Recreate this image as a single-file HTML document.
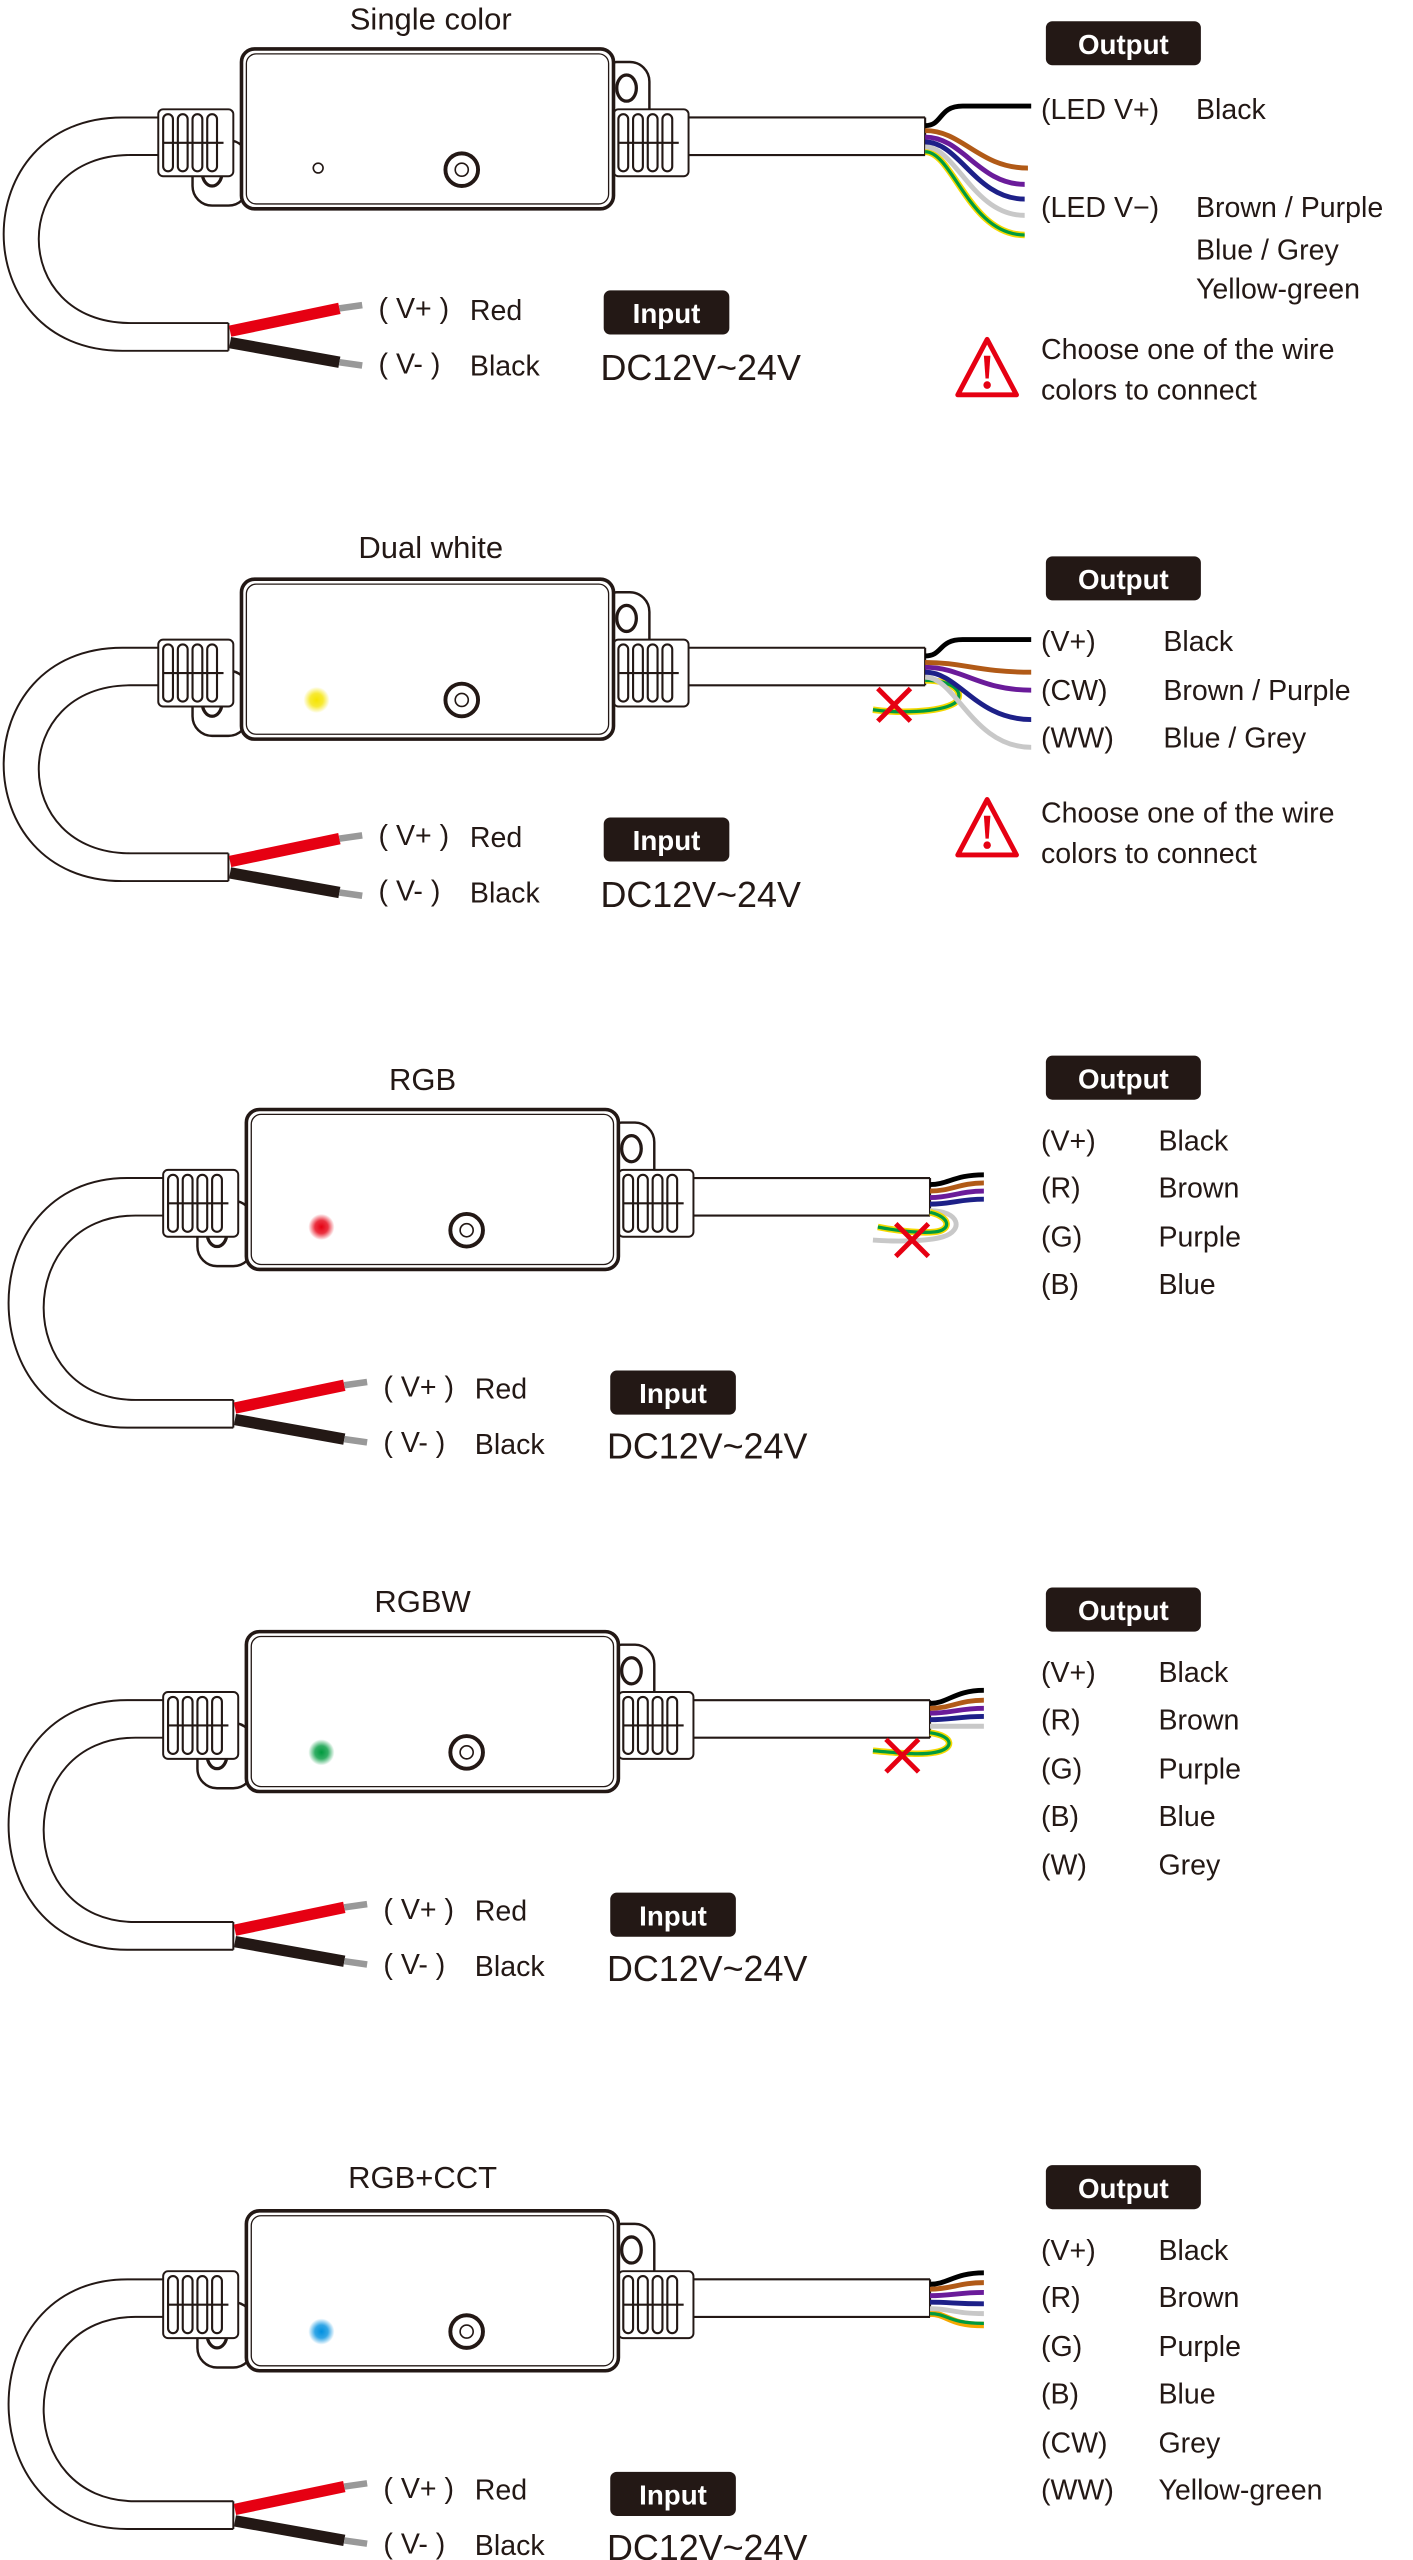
<!DOCTYPE html>
<html><head><meta charset="utf-8"><style>
html,body{margin:0;padding:0;background:#fff}
svg{display:block}
text{font-family:"Liberation Sans",sans-serif;fill:#231815}
.t{font-size:19px}
.l{font-size:17.5px}
.b{font-size:17px;font-weight:bold;fill:#fff}
.dc{font-size:22px}
</style></head><body>
<svg width="1413" height="2560" viewBox="0 0 866 1569" preserveAspectRatio="none" xmlns="http://www.w3.org/2000/svg">
<defs>
<g id="gl">
 <rect x="0" y="0" width="46" height="41" rx="3" fill="#fff" stroke="#231815" stroke-width="1.2"/>
 <g fill="#fff" stroke="#231815" stroke-width="1.3">
  <rect x="3" y="3" width="6" height="35" rx="3"/><rect x="12" y="3" width="6" height="35" rx="3"/>
  <rect x="21" y="3" width="6" height="35" rx="3"/><rect x="30" y="3" width="6" height="35" rx="3"/>
  <line x1="3" y1="20.5" x2="40" y2="20.5"/>
 </g>
</g>
<g id="dev" fill="none" stroke="#231815">
 <!-- top right ear -->
 <rect x="366" y="38" width="32" height="44" rx="12" fill="#fff" stroke-width="1.5"/>
 <ellipse cx="384" cy="54" rx="6" ry="8" stroke-width="2"/>
 <!-- bottom left ear -->
 <rect x="118" y="86" width="34" height="40" rx="12" fill="#fff" stroke-width="1.5"/>
 <ellipse cx="130" cy="106" rx="6" ry="8" stroke-width="2"/>
 <!-- right cable -->
 <line x1="418" y1="72" x2="567" y2="72" stroke-width="1.3"/>
 <line x1="418" y1="95" x2="567" y2="95" stroke-width="1.3"/>
 <line x1="567" y1="72" x2="567" y2="95" stroke-width="1.3"/>
 <use href="#gl" x="97" y="67"/>
 <use href="#gl" x="376" y="67"/>
 <!-- box -->
 <rect x="148" y="30" width="228" height="98" rx="8" fill="#fff" stroke-width="2.2"/>
 <rect x="151" y="33" width="222" height="92" rx="6" stroke-width="0.8"/>
 <!-- button -->
 <circle cx="283" cy="104" r="10" fill="#fff" stroke-width="2.4"/>
 <circle cx="283" cy="104" r="4" stroke-width="1"/>
</g>
<g id="inp">
 <rect x="0" y="0" width="77" height="27" rx="4" fill="#231815"/>
 <text x="38.5" y="20" class="b" text-anchor="middle">Input</text>
</g>
<g id="outb">
 <rect x="0" y="0" width="95" height="27" rx="4" fill="#231815"/>
 <text x="47.5" y="20" class="b" text-anchor="middle">Output</text>
</g>
<radialGradient id="gy"><stop offset="0" stop-color="#f5e400"/><stop offset="0.5" stop-color="#f5e400" stop-opacity="0.8"/><stop offset="1" stop-color="#f5e400" stop-opacity="0"/></radialGradient>
<radialGradient id="gr"><stop offset="0" stop-color="#e60012"/><stop offset="0.5" stop-color="#e60012" stop-opacity="0.8"/><stop offset="1" stop-color="#e60012" stop-opacity="0"/></radialGradient>
<radialGradient id="gg"><stop offset="0" stop-color="#009a3e"/><stop offset="0.5" stop-color="#009a3e" stop-opacity="0.8"/><stop offset="1" stop-color="#009a3e" stop-opacity="0"/></radialGradient>
<radialGradient id="gb"><stop offset="0" stop-color="#0090e0"/><stop offset="0.5" stop-color="#0090e0" stop-opacity="0.8"/><stop offset="1" stop-color="#0090e0" stop-opacity="0"/></radialGradient>
<g id="warn">
 <path d="M20,3 L38,37 L2,37 Z" fill="#fff" stroke="#e60012" stroke-width="3" stroke-linejoin="round"/>
 <path d="M18,13 L22,13 L21,27 L19,27 Z" fill="#e60012"/>
 <circle cx="20" cy="31" r="2.3" fill="#e60012"/>
</g>
<g id="xx" stroke="#e60012" stroke-width="3"><line x1="-10" y1="-10" x2="10" y2="10"/><line x1="10" y1="-10" x2="-10" y2="10"/></g>
</defs>

<!-- helper for power cable: params by section -->
<!-- ============ SECTION 1 ============ -->
<g>
 <text x="264" y="18" class="t" text-anchor="middle">Single color</text>
 <path d="M97,72 L75,72 C-22,72 -22,215 75,215 L140,215 M97,95 L80,95 C5,95 5,198 80,198 L140,198 M140,198 L140,215" fill="none" stroke="#231815" stroke-width="1.2"/>
 <use href="#dev"/>
 <circle cx="195" cy="103" r="3" fill="none" stroke="#231815" stroke-width="1"/>
 <line x1="141" y1="203" x2="208" y2="189" stroke="#e60012" stroke-width="7"/>
 <line x1="141" y1="210" x2="208" y2="222" stroke="#231815" stroke-width="7"/>
 <line x1="208" y1="189" x2="222" y2="187" stroke="#999" stroke-width="4"/>
 <line x1="208" y1="222" x2="222" y2="224" stroke="#999" stroke-width="4"/>
 <text x="232" y="195" class="l">( V+ )</text><text x="288" y="196" class="l">Red</text>
 <text x="232" y="229" class="l">( V- )</text><text x="288" y="230" class="l">Black</text>
 <use href="#inp" x="370" y="178"/>
 <text x="368" y="233" class="dc">DC12V~24V</text>
 <use href="#outb" x="641" y="13"/>
 <g fill="none" stroke-width="3">
  <path d="M567,93 C584,93 594,144 628,144" stroke="#f5d800" stroke-width="4"/>
  <path d="M567,93 C584,93 594,144 628,144" stroke="#009a3e" stroke-width="2"/>
  <path d="M567,90 C586,90 596,132 628,132" stroke="#c8c8c8"/>
  <path d="M567,87 C588,87 598,122 628,122" stroke="#1d2088"/>
  <path d="M567,84 C590,84 600,113 628,113" stroke="#6a1b9a"/>
  <path d="M567,80 C590,80 600,103 630,103" stroke="#b15a17"/>
  <path d="M567,77 C578,77 575,65 590,65 L632,65" stroke="#000"/>
 </g>
 <text x="638" y="73" class="l">(LED V+)</text><text x="733" y="73" class="l">Black</text>
 <text x="638" y="133" class="l">(LED V−)</text><text x="733" y="133" class="l">Brown / Purple</text>
 <text x="733" y="159" class="l">Blue / Grey</text>
 <text x="733" y="183" class="l">Yellow-green</text>
 <use href="#warn" x="585" y="205"/>
 <text x="638" y="220" class="l">Choose one of the wire</text>
 <text x="638" y="245" class="l">colors to connect</text>
</g>

<!-- ============ SECTION 2 ============ -->
<g transform="translate(0,325)">
 <text x="264" y="17" class="t" text-anchor="middle">Dual white</text>
 <path d="M97,72 L75,72 C-22,72 -22,215 75,215 L140,215 M97,95 L80,95 C5,95 5,198 80,198 L140,198 M140,198 L140,215" fill="none" stroke="#231815" stroke-width="1.2"/>
 <use href="#dev"/>
 <circle cx="194" cy="104" r="8" fill="url(#gy)"/>
 <line x1="141" y1="203" x2="208" y2="189" stroke="#e60012" stroke-width="7"/>
 <line x1="141" y1="210" x2="208" y2="222" stroke="#231815" stroke-width="7"/>
 <line x1="208" y1="189" x2="222" y2="187" stroke="#999" stroke-width="4"/>
 <line x1="208" y1="222" x2="222" y2="224" stroke="#999" stroke-width="4"/>
 <text x="232" y="193" class="l">( V+ )</text><text x="288" y="194" class="l">Red</text>
 <text x="232" y="227" class="l">( V- )</text><text x="288" y="228" class="l">Black</text>
 <use href="#inp" x="370" y="176"/>
 <text x="368" y="231" class="dc">DC12V~24V</text>
 <use href="#outb" x="641" y="16"/>
 <g fill="none" stroke-width="3">
  <path d="M567,92 C585,92 592,100 585,106 C575,112 550,112 535,110" stroke="#f5d800" stroke-width="4"/>
  <path d="M567,92 C585,92 592,100 585,106 C575,112 550,112 535,110" stroke="#009a3e" stroke-width="2"/>
  <path d="M567,90 C586,90 596,133 632,133" stroke="#c8c8c8"/>
  <path d="M567,87 C588,87 598,116 632,116" stroke="#1d2088"/>
  <path d="M567,84 C590,84 600,98 632,98" stroke="#6a1b9a"/>
  <path d="M567,81 C590,81 600,87 632,87" stroke="#b15a17"/>
  <path d="M567,77 C578,77 575,67 590,67 L632,67" stroke="#000"/>
 </g>
 <use href="#xx" x="548" y="107"/>
 <text x="638" y="74" class="l">(V+)</text><text x="713" y="74" class="l">Black</text>
 <text x="638" y="104" class="l">(CW)</text><text x="713" y="104" class="l">Brown / Purple</text>
 <text x="638" y="133" class="l">(WW)</text><text x="713" y="133" class="l">Blue / Grey</text>
 <use href="#warn" x="585" y="162"/>
 <text x="638" y="179" class="l">Choose one of the wire</text>
 <text x="638" y="204" class="l">colors to connect</text>
</g>

<!-- ============ SECTION 3 ============ -->
<g transform="translate(3,650)">
 <text x="256" y="18" class="t" text-anchor="middle">RGB</text>
 <path d="M97,72 L75,72 C-22,72 -22,225 75,225 L140,225 M97,95 L80,95 C5,95 5,208 80,208 L140,208 M140,208 L140,225" fill="none" stroke="#231815" stroke-width="1.2"/>
 <use href="#dev"/>
 <circle cx="194" cy="102" r="8" fill="url(#gr)"/>
 <line x1="141" y1="213" x2="208" y2="199" stroke="#e60012" stroke-width="7"/>
 <line x1="141" y1="220" x2="208" y2="232" stroke="#231815" stroke-width="7"/>
 <line x1="208" y1="199" x2="222" y2="197" stroke="#999" stroke-width="4"/>
 <line x1="208" y1="232" x2="222" y2="234" stroke="#999" stroke-width="4"/>
 <text x="232" y="206" class="l">( V+ )</text><text x="288" y="207" class="l">Red</text>
 <text x="232" y="240" class="l">( V- )</text><text x="288" y="241" class="l">Black</text>
 <use href="#inp" x="371" y="190"/>
 <text x="369" y="244" class="dc">DC12V~24V</text>
 <use href="#outb" x="638" y="-3"/>
 <g fill="none" stroke-width="3">
  <path d="M567,92 C585,92 588,104 575,108 C565,111 545,111 532,110" stroke="#c8c8c8"/>
  <path d="M567,93 C580,96 580,104 570,105 C560,106 545,104 535,102" stroke="#f5d800" stroke-width="4"/>
  <path d="M567,93 C580,96 580,104 570,105 C560,106 545,104 535,102" stroke="#009a3e" stroke-width="2"/>
  <path d="M567,88 C580,88 585,85 600,85" stroke="#1d2088"/>
  <path d="M567,84 C580,84 585,80 600,80" stroke="#6a1b9a"/>
  <path d="M567,80 C580,80 585,75 600,75" stroke="#b15a17"/>
  <path d="M567,76 C578,76 582,70 600,70" stroke="#000"/>
 </g>
 <use href="#xx" x="556" y="110"/>
 <text x="635" y="55" class="l">(V+)</text><text x="707" y="55" class="l">Black</text>
 <text x="635" y="84" class="l">(R)</text><text x="707" y="84" class="l">Brown</text>
 <text x="635" y="114" class="l">(G)</text><text x="707" y="114" class="l">Purple</text>
 <text x="635" y="143" class="l">(B)</text><text x="707" y="143" class="l">Blue</text>
</g>

<!-- ============ SECTION 4 ============ -->
<g transform="translate(3,970)">
 <text x="256" y="18" class="t" text-anchor="middle">RGBW</text>
 <path d="M97,72 L75,72 C-22,72 -22,225 75,225 L140,225 M97,95 L80,95 C5,95 5,208 80,208 L140,208 M140,208 L140,225" fill="none" stroke="#231815" stroke-width="1.2"/>
 <use href="#dev"/>
 <circle cx="194" cy="104" r="8" fill="url(#gg)"/>
 <line x1="141" y1="213" x2="208" y2="199" stroke="#e60012" stroke-width="7"/>
 <line x1="141" y1="220" x2="208" y2="232" stroke="#231815" stroke-width="7"/>
 <line x1="208" y1="199" x2="222" y2="197" stroke="#999" stroke-width="4"/>
 <line x1="208" y1="232" x2="222" y2="234" stroke="#999" stroke-width="4"/>
 <text x="232" y="206" class="l">( V+ )</text><text x="288" y="207" class="l">Red</text>
 <text x="232" y="240" class="l">( V- )</text><text x="288" y="241" class="l">Black</text>
 <use href="#inp" x="371" y="190"/>
 <text x="369" y="244" class="dc">DC12V~24V</text>
 <use href="#outb" x="638" y="3"/>
 <g fill="none" stroke-width="3">
  <path d="M567,92 C582,94 582,102 570,104 C560,106 545,104 532,103" stroke="#f5d800" stroke-width="4"/>
  <path d="M567,92 C582,94 582,102 570,104 C560,106 545,104 532,103" stroke="#009a3e" stroke-width="2"/>
  <path d="M567,88 C580,88 585,88 600,88" stroke="#c8c8c8"/>
  <path d="M567,84 C580,84 585,82 600,82" stroke="#1d2088"/>
  <path d="M567,80 C580,80 585,77 600,77" stroke="#6a1b9a"/>
  <path d="M567,77 C580,77 585,72 600,72" stroke="#b15a17"/>
  <path d="M567,74 C578,74 582,66 600,66" stroke="#000"/>
 </g>
 <use href="#xx" x="550" y="106"/>
 <text x="635" y="61" class="l">(V+)</text><text x="707" y="61" class="l">Black</text>
 <text x="635" y="90" class="l">(R)</text><text x="707" y="90" class="l">Brown</text>
 <text x="635" y="120" class="l">(G)</text><text x="707" y="120" class="l">Purple</text>
 <text x="635" y="149" class="l">(B)</text><text x="707" y="149" class="l">Blue</text>
 <text x="635" y="179" class="l">(W)</text><text x="707" y="179" class="l">Grey</text>
</g>

<!-- ============ SECTION 5 ============ -->
<g transform="translate(3,1325)">
 <text x="256" y="16" class="t" text-anchor="middle">RGB+CCT</text>
 <path d="M97,72 L75,72 C-22,72 -22,225 75,225 L140,225 M97,95 L80,95 C5,95 5,208 80,208 L140,208 M140,208 L140,225" fill="none" stroke="#231815" stroke-width="1.2"/>
 <use href="#dev"/>
 <circle cx="194" cy="104" r="8" fill="url(#gb)"/>
 <line x1="141" y1="213" x2="208" y2="199" stroke="#e60012" stroke-width="7"/>
 <line x1="141" y1="220" x2="208" y2="232" stroke="#231815" stroke-width="7"/>
 <line x1="208" y1="199" x2="222" y2="197" stroke="#999" stroke-width="4"/>
 <line x1="208" y1="232" x2="222" y2="234" stroke="#999" stroke-width="4"/>
 <text x="232" y="206" class="l">( V+ )</text><text x="288" y="207" class="l">Red</text>
 <text x="232" y="240" class="l">( V- )</text><text x="288" y="241" class="l">Black</text>
 <use href="#inp" x="371" y="190"/>
 <text x="369" y="244" class="dc">DC12V~24V</text>
 <use href="#outb" x="638" y="2"/>
 <g fill="none" stroke-width="3">
  <path d="M567,93 C578,93 578,100 600,100" stroke="#f5a800" stroke-width="4"/>
  <path d="M567,93 C578,93 578,99 600,99" stroke="#009a3e" stroke-width="2"/>
  <path d="M567,90 C580,90 582,93 600,93" stroke="#c8c8c8"/>
  <path d="M567,86 C580,86 582,87 600,87" stroke="#1d2088"/>
  <path d="M567,82 C580,82 585,80 600,80" stroke="#6a1b9a"/>
  <path d="M567,78 C580,78 585,74 600,74" stroke="#b15a17"/>
  <path d="M567,75 C578,75 582,68 600,68" stroke="#000"/>
 </g>
 <text x="635" y="60" class="l">(V+)</text><text x="707" y="60" class="l">Black</text>
 <text x="635" y="89" class="l">(R)</text><text x="707" y="89" class="l">Brown</text>
 <text x="635" y="119" class="l">(G)</text><text x="707" y="119" class="l">Purple</text>
 <text x="635" y="148" class="l">(B)</text><text x="707" y="148" class="l">Blue</text>
 <text x="635" y="178" class="l">(CW)</text><text x="707" y="178" class="l">Grey</text>
 <text x="635" y="207" class="l">(WW)</text><text x="707" y="207" class="l">Yellow-green</text>
</g>
</svg>
</body></html>
